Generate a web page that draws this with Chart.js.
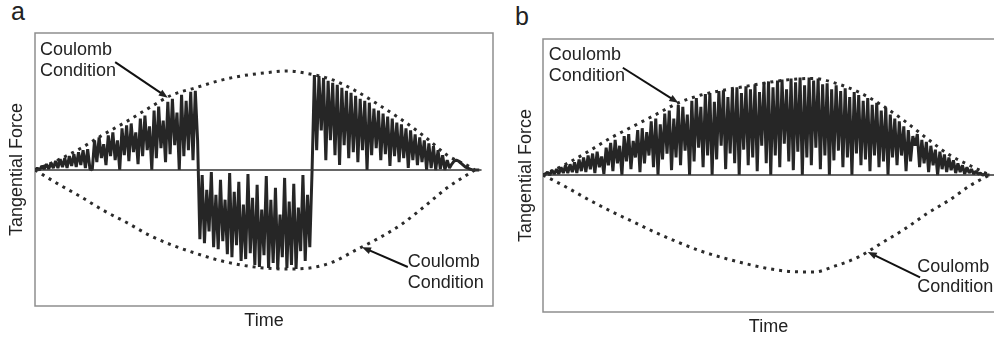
<!DOCTYPE html>
<html>
<head>
<meta charset="utf-8">
<script src="https://cdn.jsdelivr.net/npm/chart.js@4.4.1/dist/chart.umd.min.js"></script>
<style>
  body { margin: 0; background: #fff; width: 994px; height: 339px; overflow: hidden; position: relative;
         font-family: "Liberation Sans", Arial, sans-serif; }
  canvas { position: absolute; top: 0; }
  #chartA { left: 0; }
  #chartB { left: 500px; }
  .tag { position: absolute; font-size: 25px; color: #222; }
</style>
</head>
<body>
<div class="tag" style="left:11px;top:-3px">a</div>
<div class="tag" style="left:515px;top:2px">b</div>
<canvas id="chartA" width="500" height="339"></canvas>
<canvas id="chartB" width="494" height="339"></canvas>
<script>
// time axis is arbitrary units 0..100, force in % of the Coulomb limit peak
const sampleStep = 0.5;

// panel a - sliding changes direction in the middle
const envTimeA  = [0, 5, 10, 15, 20, 25, 30, 35, 40, 45, 50, 55, 60, 65, 70, 75, 80, 85, 90, 95, 96];
const envUpperA = [0, 10, 22, 36, 49, 63, 76, 83, 90, 95, 98, 100, 97, 91, 80, 66, 51, 34, 15, 3, 0];
const envLowerA = [0, -14, -27, -41, -53, -66, -76, -84, -91, -96, -99, -100, -99, -93, -81, -69, -55, -37, -18, -3, 0];
const forceA = [
  // start-up, small oscillations
  0, 2, 0, 4, 1, 6, 1, 7, 2, 9, 2, 11, 3, 12, 2, 14, 4, 16, 3, 18, 5, 20, 2, 21, 1,
  // positive stick-slip
  0, 30, 8, 33, 12, 26, 5, 35, 14, 38, 10, 30, 0, 42, 15, 45, 9, 47, 18, 38,
  6, 52, 14, 55, 20, 44, 0, 60, 12, 64, 22, 50, 8, 69, 16, 72, 25, 58, 0, 76,
  14, 70, 20, 79, 10, 80, 30,
  // reversed
  -70, -5, -74, -20, -62, -2, -78, -25, -80, -10, -72, -30, -85, -3, -88, -22, -76, -12, -92, -35,
  -90, -4, -84, -28, -96, -15, -98, -40, -86, -6, -99, -30, -94, -18, -100, -45, -88, -8, -99, -32,
  -96, -14, -100, -38, -82, -5, -92, -25, -78,
  // positive again
  0, 96, 20, 95, 40, 93, 10, 90, 30, 88, 15, 86, 5, 83, 25, 80, 12, 78, 18, 75,
  8, 72, 20, 70, 0, 68, 15, 62, 22, 60, 10, 57, 16, 54, 4, 52, 14, 48, 8, 46,
  12, 42, 2, 40, 10, 36, 5, 33, 8, 30, 0, 27,
  // dying out
  2, 24, 0, 20, 1, 15, 0, 10, 2, 6, 9, 10, 9, 7, 5, 3, 2, 1, 0, 0, 0, 0
];

// panel b - one direction all the way
const envTimeB  = [0, 5, 10, 15, 20, 25, 30, 35, 40, 45, 50, 55, 60, 65, 70, 75, 80, 85, 90, 95, 99];
const envUpperB = [0, 11, 24, 38, 50, 62, 74, 82, 87, 91, 95, 98, 99, 94, 85, 72, 56, 38, 21, 9, 0];
const envLowerB = [0, -12, -25, -37, -48, -59, -69, -78, -85, -91, -96, -99, -99.5, -93, -84, -70, -56, -40, -26, -10, 0];
const forceB = [
  0, 1, 3, 0, 5, 1, 6, 1, 8, 2, 10, 2, 11, 3, 13, 2, 16, 4, 18, 3,
  20, 6, 22, 2, 24, 8, 19, 1, 28, 10, 33, 4, 36, 12, 30, 0, 40, 14, 42, 6, 35, 18, 46, 3, 48, 12,
  44, 20, 55, 8, 58, 0, 52, 16, 63, 22, 66, 5, 58, 18, 72, 10, 70, 25, 62, 0,
  76, 14, 79, 28, 70, 8, 83, 20, 84, 0, 75, 16, 86, 30, 87, 6, 80, 22, 89, 12, 90, 0, 84, 26, 91, 10, 88, 18, 93, 4, 85, 30, 95, 12,
  96, 0, 90, 20, 97, 8, 98, 32, 88, 14, 99, 5, 95, 24, 100, 0, 92, 18, 100, 10, 97, 28, 99, 6, 93, 20,
  94, 0, 88, 15, 92, 25, 86, 8, 89, 18, 80, 0, 85, 22, 82, 10, 76, 16, 79, 4, 72, 20, 74, 8, 66, 14, 69, 0, 62, 18,
  58, 10, 55, 20, 50, 4, 46, 14, 40, 30, 42, 8, 36, 12, 34, 3, 30, 10, 26, 0,
  24, 6, 21, 3, 18, 5, 15, 2, 12, 3, 10, 1, 8, 2, 6, 1, 4, 1, 2, 0, 1, 0, 0
];

const axisEndA = 97.5;
const axisEndB = 100;

Chart.defaults.font.family = '"Liberation Sans", Arial, sans-serif';
Chart.defaults.color = '#222';

function series(values, step) {
  return values.map((v, i) => ({ x: i * step, y: v }));
}
function pairs(times, values) {
  return times.map((t, i) => ({ x: t, y: values[i] }));
}

// box round the plot + the "Coulomb Condition" callouts
const framePlugin = {
  id: 'frame',
  beforeDatasetsDraw(chart, args, opts) {
    const a = chart.chartArea, ctx = chart.ctx;
    ctx.save();
    ctx.strokeStyle = '#8e8e8e';
    ctx.lineWidth = 1.5;
    ctx.beginPath();
    if (opts.openRight) {
      ctx.moveTo(a.right + 2, a.top);
      ctx.lineTo(a.left, a.top);
      ctx.lineTo(a.left, a.bottom);
      ctx.lineTo(a.right + 2, a.bottom);
    } else {
      ctx.rect(a.left, a.top, a.right - a.left, a.bottom - a.top);
    }
    ctx.stroke();
    ctx.restore();
  },
  afterDatasetsDraw(chart, args, opts) {
    const ctx = chart.ctx, xs = chart.scales.x, ys = chart.scales.y;
    ctx.save();
    ctx.fillStyle = '#222';
    ctx.font = '18px "Liberation Sans", Arial, sans-serif';
    ctx.textBaseline = 'middle';
    ctx.textAlign = 'left';
    (opts.notes || []).forEach(n => {
      ctx.fillText(n.text, xs.getPixelForValue(n.t), ys.getPixelForValue(n.v));
    });
    ctx.strokeStyle = '#111';
    ctx.lineWidth = 2;
    (opts.arrows || []).forEach(ar => {
      const x1 = xs.getPixelForValue(ar.from[0]), y1 = ys.getPixelForValue(ar.from[1]);
      const x2 = xs.getPixelForValue(ar.to[0]), y2 = ys.getPixelForValue(ar.to[1]);
      const ang = Math.atan2(y2 - y1, x2 - x1);
      ctx.beginPath();
      ctx.moveTo(x1, y1);
      ctx.lineTo(x2 - 5 * Math.cos(ang), y2 - 5 * Math.sin(ang));
      ctx.stroke();
      ctx.beginPath();
      ctx.moveTo(x2, y2);
      ctx.lineTo(x2 - 9 * Math.cos(ang) + 3.5 * Math.sin(ang), y2 - 9 * Math.sin(ang) - 3.5 * Math.cos(ang));
      ctx.lineTo(x2 - 9 * Math.cos(ang) - 3.5 * Math.sin(ang), y2 - 9 * Math.sin(ang) + 3.5 * Math.cos(ang));
      ctx.closePath();
      ctx.fill();
    });
    ctx.restore();
  }
};

function makePanel(id, p) {
  const dotted = {
    borderColor: '#2b2b2b', borderWidth: 3, borderDash: [3, 5], pointRadius: 0,
    cubicInterpolationMode: 'monotone', fill: false
  };
  return new Chart(document.getElementById(id), {
    type: 'line',
    data: {
      datasets: [
        { data: [{ x: 0, y: 0 }, { x: p.axisEnd, y: 0 }], borderColor: '#333', borderWidth: 1.4, pointRadius: 0 },
        { data: series(p.force, sampleStep), borderColor: '#262626', borderWidth: 3, pointRadius: 0, tension: 0,
          borderJoinStyle: 'bevel', borderCapStyle: 'butt' },
        Object.assign({ data: pairs(p.envTime, p.envUpper) }, dotted),
        Object.assign({ data: pairs(p.envTime, p.envLower) }, dotted)
      ]
    },
    options: {
      responsive: false,
      animation: false,
      devicePixelRatio: 1,
      layout: { padding: p.padding },
      plugins: {
        legend: { display: false },
        tooltip: { enabled: false },
        frame: { openRight: p.openRight, notes: p.notes, arrows: p.arrows }
      },
      scales: {
        x: {
          type: 'linear', min: 0, max: 100,
          ticks: { display: false }, grid: { display: false, drawTicks: false }, border: { display: false },
          title: { display: true, text: 'Time', font: { size: 18 }, padding: p.xTitlePad }
        },
        y: {
          min: p.yMin, max: p.yMax,
          ticks: { display: false }, grid: { display: false, drawTicks: false }, border: { display: false },
          title: { display: true, text: 'Tangential Force', font: { size: 18 }, padding: p.yTitlePad }
        }
      }
    },
    plugins: [framePlugin]
  });
}

makePanel('chartA', {
  force: forceA, envTime: envTimeA, envUpper: envUpperA, envLower: envLowerA, axisEnd: axisEndA,
  yMin: -137.4, yMax: 138.4,
  padding: { top: 33, right: 7, bottom: 0, left: 0 },
  xTitlePad: { top: 4.2, bottom: 7.2 },
  yTitlePad: { top: 6.2, bottom: 7.2 },
  openRight: false,
  notes: [
    { t: 1.1, v: 121, text: 'Coulomb' }, { t: 1.1, v: 100, text: 'Condition' },
    { t: 81.4, v: -93, text: 'Coulomb' }, { t: 81.4, v: -114, text: 'Condition' }
  ],
  arrows: [
    { from: [17.5, 109], to: [29, 73] },
    { from: [81.4, -98], to: [71.4, -78] }
  ]
});

makePanel('chartB', {
  force: forceB, envTime: envTimeB, envUpper: envUpperB, envLower: envLowerB, axisEnd: axisEndB,
  yMin: -140.5, yMax: 139.5,
  padding: { top: 39, right: 0, bottom: 0, left: 9 },
  xTitlePad: { top: 4.2, bottom: 1.2 },
  yTitlePad: { top: 6.2, bottom: 6.2 },
  openRight: true,
  notes: [
    { t: 1.3, v: 123, text: 'Coulomb' }, { t: 1.3, v: 101.5, text: 'Condition' },
    { t: 83, v: -94, text: 'Coulomb' }, { t: 83, v: -115, text: 'Condition' }
  ],
  arrows: [
    { from: [17.7, 110], to: [30, 74] },
    { from: [83.6, -105], to: [72, -79] }
  ]
});
</script>
</body>
</html>
